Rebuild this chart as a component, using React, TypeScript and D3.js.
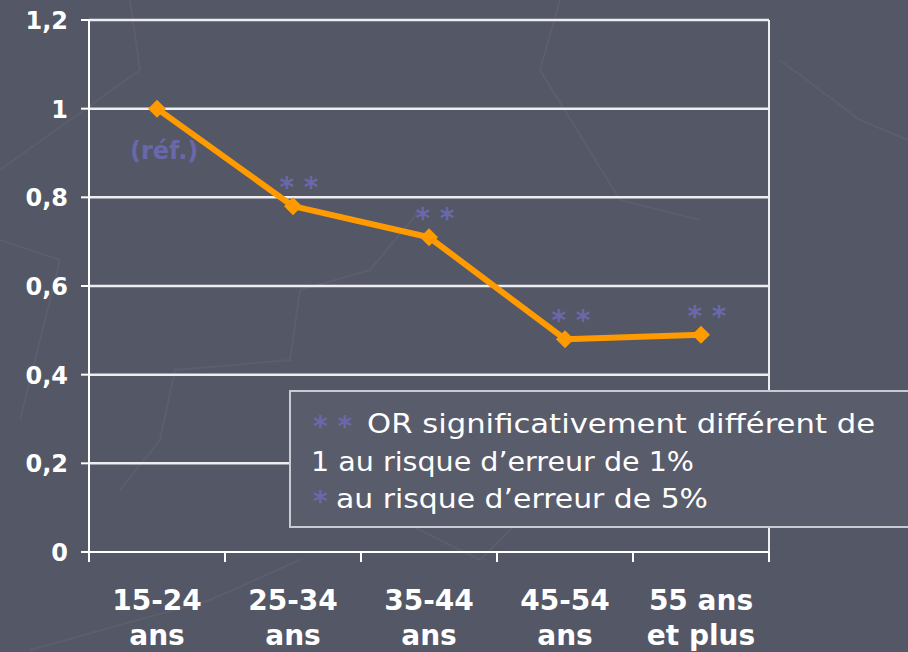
import React from "react";
import * as d3 from "d3";

const categories = ["15-24|ans", "25-34|ans", "35-44|ans", "45-54|ans", "55 ans|et plus"];
const values = [1.0, 0.78, 0.71, 0.48, 0.49];
const marks = ["(réf.)", "* *", "* *", "* *", "* *"];
const yTicks = [0, 0.2, 0.4, 0.6, 0.8, 1, 1.2];

const W = 908, H = 652;
const left = 89, right = 769, top = 20, bottom = 552;

export default function App() {
  const x = d3.scaleBand().domain(categories).range([left, right]).padding(0);
  const y = d3.scaleLinear().domain([0, 1.2]).range([bottom, top]);
  const cx = (c: string) => (x(c) as number) + x.bandwidth() / 2;
  const line = d3.line<number>().x((_, i) => cx(categories[i])).y((d) => y(d));
  const fmt = (v: number) => d3.format(".1f")(v).replace(".0", "").replace(".", ",");
  const label = "DejaVu Sans, Verdana, sans-serif";
  const purple = "#6a68ab";
  return (
    <svg width={W} height={H} style={{ position: "absolute", left: 0, top: 0 }}>
      <rect width={W} height={H} fill="#545765" />
      {/* faint decorative background lines */}
      <g stroke="#5b5e6d" strokeWidth={2} fill="none">
        <polyline points="0,240 60,260 20,420" />
        <polyline points="130,0 140,70 0,170" />
        <polyline points="120,490 160,440 175,370 290,360 300,290 370,270 420,210" />
        <polyline points="560,0 540,70 620,200 700,220" />
        <polyline points="780,60 860,120 908,140" />
        <polyline points="400,520 480,560 540,500 620,470" />
        <polyline points="30,650 210,600 300,560" />
        <polyline points="700,450 820,470 908,440" />
      </g>
      {/* grid */}
      {yTicks.slice(1).map((t) => (
        <line key={t} x1={left} x2={right} y1={y(t)} y2={y(t)} stroke="#eeeef2" strokeWidth={2.5} />
      ))}
      <line x1={right} x2={right} y1={top} y2={bottom} stroke="#eeeef2" strokeWidth={2} />
      {/* axes */}
      <line x1={left} x2={left} y1={top} y2={bottom} stroke="#ffffff" strokeWidth={2} />
      <line x1={left} x2={right} y1={bottom} y2={bottom} stroke="#ffffff" strokeWidth={2} />
      {yTicks.map((t) => (
        <g key={t}>
          <line x1={left - 8} x2={left} y1={y(t)} y2={y(t)} stroke="#fff" strokeWidth={2} />
          <text x={68} y={y(t) + 9} textAnchor="end" fill="#fff" fontFamily={label} fontWeight="bold" fontSize={24}>
            {fmt(t)}
          </text>
        </g>
      ))}
      {categories.map((c) => (
        <line key={c} x1={x(c)} x2={x(c)} y1={bottom} y2={bottom + 10} stroke="#fff" strokeWidth={2} />
      ))}
      <line x1={right} x2={right} y1={bottom} y2={bottom + 10} stroke="#fff" strokeWidth={2} />
      {categories.map((c) => {
        const [a, b] = c.split("|");
        return (
          <text key={c} x={cx(c)} textAnchor="middle" fill="#fff" fontFamily={label} fontWeight="bold" fontSize={28}>
            <tspan x={cx(c)} y={610}>{a}</tspan>
            <tspan x={cx(c)} y={645}>{b}</tspan>
          </text>
        );
      })}
      {/* series */}
      <path d={line(values) || ""} fill="none" stroke="#ff9a00" strokeWidth={6} strokeLinejoin="round" />
      {values.map((v, i) => {
        const px = cx(categories[i]), py = y(v);
        return <path key={i} d={`M${px},${py - 9}L${px + 9},${py}L${px},${py + 9}L${px - 9},${py}Z`} fill="#ff9a00" />;
      })}
      {marks.map((m, i) => {
        const px = cx(categories[i]), py = y(values[i]);
        if (i === 0)
          return (
            <text key={i} x={px - 27} y={py + 50} textAnchor="start" fill={purple} fontFamily={label} fontWeight="bold" fontSize={24}>
              {m}
            </text>
          );
        return (
          <text key={i} x={px + 6} y={py - 9} textAnchor="middle" fill={purple} fontFamily={label} fontWeight="bold" fontSize={28}>
            {m}
          </text>
        );
      })}
      {/* legend */}
      <rect x={290} y={391} width={630} height={136} fill="#595c6b" stroke="#c9cad4" strokeWidth={2} />
      <g fontFamily="DejaVu Sans, sans-serif" fontSize={26} fill="#fff">
        <text x={313} y={436} fill={purple} fontSize={28} fontWeight="bold">* *</text>
        <text x={367} y={433} textLength={508} lengthAdjust="spacingAndGlyphs">OR significativement différent de</text>
        <text x={311} y={471} textLength={383} lengthAdjust="spacingAndGlyphs">1 au risque d’erreur de 1%</text>
        <text x={313} y={511} fill={purple} fontSize={28} fontWeight="bold">*</text>
        <text x={336} y={508} textLength={372} lengthAdjust="spacingAndGlyphs">au risque d’erreur de 5%</text>
      </g>
    </svg>
  );
}
